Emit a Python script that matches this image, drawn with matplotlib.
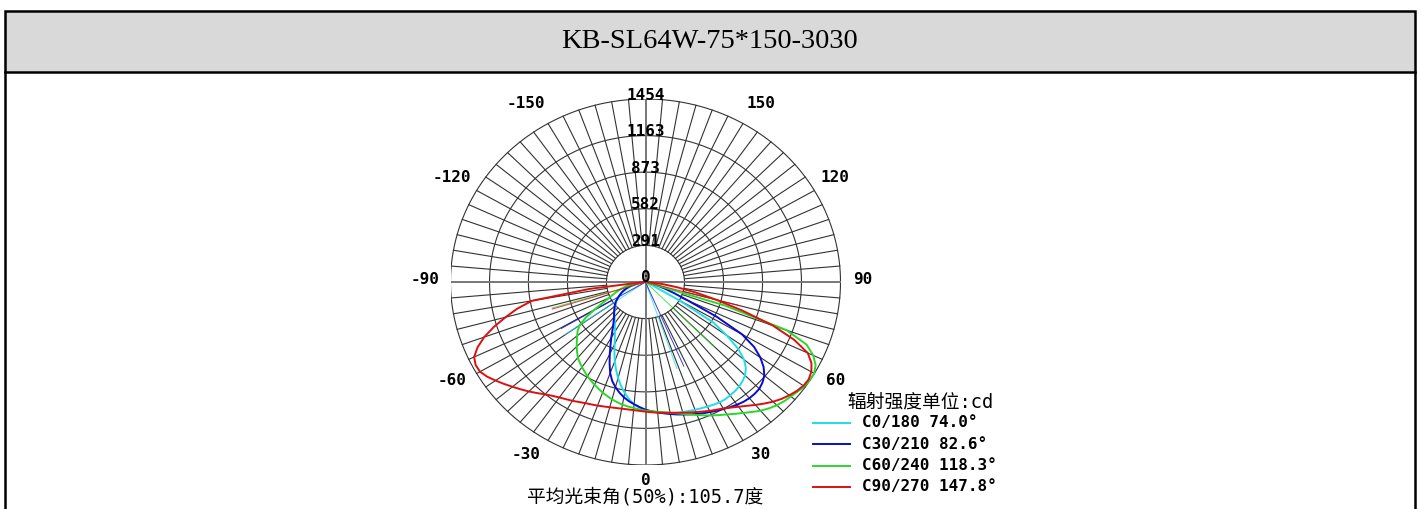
import numpy as np
import matplotlib
matplotlib.use('Agg')
import matplotlib.pyplot as plt
from matplotlib.patches import Rectangle

plt.rcParams['font.family'] = ['DejaVu Sans Mono', 'Noto Sans CJK SC']

title = 'KB-SL64W-75*150-3030'
ring_values = [291, 582, 873, 1163, 1454]
r_max = 1454
angle_labels = [0, 30, 60, 90, 120, 150, -30, -60, -90, -120, -150]

# gamma angle (0 = nadir), step 2.5 deg, -90 .. 90
gamma = np.arange(-90, 90.1, 2.5)
c0_180 = [0, 5, 15, 30, 50, 70, 90, 115, 140, 165, 190, 210, 230, 250, 265, 278, 290, 310, 330,
          345, 360, 378, 400, 425, 455, 495, 545, 605, 670, 730, 790, 845, 895, 940, 975, 1000,
          1015, 1030, 1040, 1052, 1060, 1066, 1070, 1075, 1080, 1086, 1092, 1099, 1105, 1105,
          1100, 1094, 1085, 1070, 1050, 1015, 960, 870, 740, 600, 280, 60, 0,
          0, 0, 0, 0, 0, 0, 0, 0, 0, 0]
c30_210 = [0, 8, 20, 40, 60, 85, 110, 133, 155, 175, 195, 212, 230, 250, 270, 285, 300, 315, 330,
           347, 365, 390, 420, 460, 510, 565, 630, 700, 770, 825, 865, 900, 930, 955, 975, 995,
           1015, 1028, 1040, 1052, 1065, 1078, 1090, 1103, 1115, 1128, 1140, 1153, 1165, 1178,
           1190, 1200, 1205, 1205, 1200, 1183, 1157, 1110, 1045, 960, 830, 600, 350, 230, 150,
           95, 50, 20, 0, 0, 0, 0, 0]
c60_240 = [0, 15, 40, 75, 110, 140, 170, 200, 230, 262, 300, 360, 440, 530, 600, 638, 665, 695, 725,
           755, 785, 806, 825, 845, 865, 883, 900, 918, 935, 950, 965, 978, 990, 998, 1005, 1014,
           1023, 1028, 1035, 1044, 1055, 1069, 1085, 1104, 1125, 1147, 1170, 1192, 1215, 1242,
           1270, 1302, 1335, 1362, 1385, 1402, 1415, 1430, 1445, 1452, 1452, 1430, 1380, 1300,
           1120, 620, 15, 0, 0, 0, 0, 0, 0]
c90_270 = [0, 10, 40, 420, 860, 980, 1080, 1185, 1280, 1355, 1410, 1428, 1425, 1400, 1365, 1330,
           1295, 1262, 1230, 1197, 1165, 1140, 1120, 1104, 1090, 1075, 1062, 1053, 1045, 1037, 1030,
           1025, 1022, 1021, 1022, 1025, 1030, 1036, 1042, 1048, 1055, 1064, 1075, 1087, 1100, 1114,
           1130, 1144, 1160, 1183, 1210, 1240, 1275, 1310, 1345, 1375, 1400, 1422, 1437, 1442, 1428,
           1395, 1335, 1200, 1010, 760, 550, 380, 240, 130, 40, 10, 0]

series = [c0_180, c30_210, c60_240, c90_270]
labels = ['C0/180 74.0°', 'C30/210 82.6°', 'C60/240 118.3°', 'C90/270 147.8°']
colors = ['#22dde8', '#0a0ad0', '#2ad82a', '#dd1010']
# 50% beam edges (left, right)
beam_left = [-55.2, -59.5, -73.5, -72.8]
beam_right = [18.8, 23.1, 44.8, 75.0]
half_value = 727

W, H = 1421, 509
fig = plt.figure(figsize=(W / 100, H / 100), dpi=100)

# frame / header in pixel coords
frame = fig.add_axes([0, 0, 1, 1])
frame.set_xlim(0, W)
frame.set_ylim(H, 0)
frame.axis('off')
frame.add_patch(Rectangle((4.5, 10.5), 1410, 61.5, facecolor='#d9d9d9', edgecolor='black', lw=1.8))
frame.plot([4.5, 4.5], [72, H], color='black', lw=1.8)
frame.plot([1414.5, 1414.5], [72, H], color='black', lw=1.8)
frame.text(709.5, 41, title, family='Liberation Serif', fontsize=20.5, ha='center', va='center')

# polar diagram drawn in a cartesian axes (slightly elliptical like the original)
cx, cy, rx, ry = 645.5, 282, 195, 183
ax = fig.add_axes([(cx - rx) / W, (H - cy - ry) / H, 2 * rx / W, 2 * ry / H])
ax.set_xlim(-r_max, r_max)
ax.set_ylim(-r_max, r_max)
ax.axis('off')
ax.patch.set_alpha(0)

t = np.linspace(0, 2 * np.pi, 400)
for r in ring_values:
    ax.plot(r * np.sin(t), r * np.cos(t), color='#333333', lw=0.8)
for a in range(0, 360, 5):
    if a % 90 == 0:
        continue
    ar = np.radians(a)
    ax.plot([ring_values[0] * np.sin(ar), r_max * np.sin(ar)],
            [ring_values[0] * np.cos(ar), r_max * np.cos(ar)], color='#333333', lw=0.8)
ax.plot([-r_max, r_max], [0, 0], color='#777777', lw=1.4)
ax.plot([0, 0], [-r_max, r_max], color='#777777', lw=1.4)

g = np.radians(gamma)
for vals, col, bl, br in zip(series, colors, beam_left, beam_right):
    vals = np.array(vals, dtype=float)
    for b in (bl, br):
        br_ = np.radians(b)
        ax.plot([0, half_value * np.sin(br_)], [0, -half_value * np.cos(br_)], color=col, lw=0.7, alpha=0.8)
    ax.plot(vals * np.sin(g), -vals * np.cos(g), color=col, lw=1.4)

lab_font = dict(fontsize=11.5, fontweight='bold', ha='center', va='center', annotation_clip=False,
                textcoords='offset pixels')
for a in angle_labels:
    ar = np.radians(a)
    s = np.sin(ar)
    dx = 14 * np.sign(round(s, 6)) - (4 if a < 0 else 0)
    dy = 5 if a == 0 else 3
    ax.annotate(str(a), xy=(1.04 * r_max * s, -1.11 * r_max * np.cos(ar)), xytext=(dx, dy), **lab_font)
for r in ring_values:
    ax.annotate(str(r), xy=(0, r), xytext=(0, 4), **lab_font)
ax.annotate('0', xy=(0, 0), xytext=(0, 5), **lab_font)

# legend
frame.text(921, 402, '辐射强度单位:cd', ha='center', va='center', fontsize=13.5)
for i, (lab, col) in enumerate(zip(labels, colors)):
    y = 423 + i * 21.3
    frame.plot([813, 850], [y, y], color=col, lw=1.4)
    frame.text(862, y, lab, ha='left', va='center', fontsize=11.5, fontweight='bold')

frame.text(645, 497, '平均光束角(50%):105.7度', ha='center', va='center', fontsize=13.5)

fig.savefig('out.png', dpi=100)
